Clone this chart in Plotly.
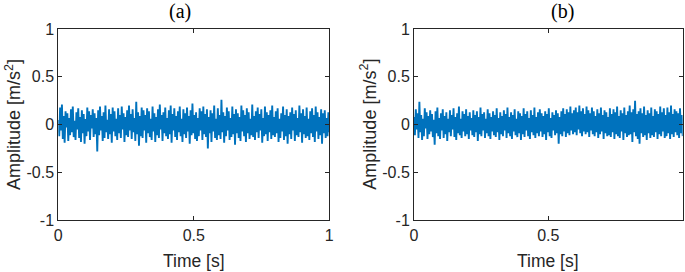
import numpy as np
import plotly.graph_objects as go

amp_a = [
    0.05, -0.12, 0.18, -0.06, 0.21, -0.15, 0.09, -0.19, 0.14, -0.03, 0.12, -0.17, 0.07, -0.11, 0.16, -0.08, 0.19, -0.13, 0.04, -0.16,
    0.13, -0.05, 0.17, -0.14, 0.08, -0.18, 0.15, -0.09, 0.11, -0.2, 0.06, -0.12, 0.18, -0.07, 0.14, -0.16, 0.1, -0.04, 0.16, -0.13,
    0.12, -0.1, 0.07, -0.28, 0.15, -0.11, 0.19, -0.06, 0.09, -0.17, 0.13, -0.14, 0.2, -0.08, 0.05, -0.15, 0.16, -0.1, 0.11, -0.19,
    0.18, -0.07, 0.14, -0.12, 0.06, -0.16, 0.17, -0.09, 0.1, -0.14, 0.19, -0.05, 0.12, -0.18, 0.08, -0.11, 0.15, -0.13, 0.2, -0.06,
    0.11, -0.15, 0.16, -0.08, 0.07, -0.17, 0.24, -0.1, 0.13, -0.22, 0.09, -0.12, 0.18, -0.14, 0.15, -0.06, 0.1, -0.19, 0.17, -0.09,
    0.14, -0.13, 0.06, -0.16, 0.19, -0.07, 0.12, -0.18, 0.08, -0.11, 0.16, -0.14, 0.21, -0.05, 0.1, -0.17, 0.13, -0.09, 0.18, -0.12,
    0.07, -0.15, 0.15, -0.1, 0.2, -0.19, 0.11, -0.06, 0.17, -0.13, 0.09, -0.16, 0.14, -0.08, 0.19, -0.12, 0.06, -0.18, 0.16, -0.1,
    0.12, -0.14, 0.18, -0.07, 0.09, -0.2, 0.15, -0.11, 0.22, -0.09, 0.1, -0.15, 0.13, -0.17, 0.07, -0.12, 0.17, -0.06, 0.14, -0.16,
    0.19, -0.1, 0.11, -0.13, 0.16, -0.25, 0.08, -0.09, 0.15, -0.18, 0.12, -0.07, 0.2, -0.14, 0.06, -0.16, 0.17, -0.11, 0.1, -0.15,
    0.26, -0.08, 0.13, -0.19, 0.09, -0.12, 0.18, -0.06, 0.14, -0.16, 0.07, -0.13, 0.19, -0.1, 0.11, -0.21, 0.16, -0.09, 0.12, -0.14,
    0.08, -0.17, 0.2, -0.07, 0.15, -0.12, 0.1, -0.18, 0.17, -0.09, 0.13, -0.15, 0.06, -0.11, 0.21, -0.13, 0.09, -0.16, 0.14, -0.08,
    0.18, -0.14, 0.11, -0.06, 0.16, -0.19, 0.07, -0.12, 0.19, -0.1, 0.13, -0.17, 0.1, -0.08, 0.15, -0.15, 0.2, -0.11, 0.08, -0.13,
    0.14, -0.09, 0.17, -0.18, 0.06, -0.14, 0.12, -0.07, 0.19, -0.16, 0.1, -0.12, 0.16, -0.2, 0.09, -0.1, 0.13, -0.15, 0.18, -0.06,
    0.11, -0.17, 0.15, -0.11, 0.07, -0.13, 0.2, -0.08, 0.12, -0.19, 0.16, -0.1, 0.09, -0.14, 0.18, -0.12, 0.06, -0.16, 0.14, -0.09,
    0.17, -0.13, 0.1, -0.18, 0.19, -0.07, 0.13, -0.15, 0.08, -0.11, 0.16, -0.2, 0.12, -0.09, 0.15, -0.14, 0.07, -0.12, 0.13, -0.08,
]

amp_b = [
    0.08, -0.11, 0.16, -0.05, 0.12, -0.14, 0.24, -0.08, 0.1, -0.16, 0.06, -0.12, 0.17, -0.04, 0.13, -0.15, 0.09, -0.1, 0.15, -0.07,
    0.11, -0.13, 0.05, -0.21, 0.14, -0.09, 0.18, -0.12, 0.07, -0.15, 0.12, -0.06, 0.16, -0.14, 0.09, -0.1, 0.13, -0.17, 0.06, -0.08,
    0.15, -0.12, 0.1, -0.05, 0.17, -0.13, 0.08, -0.16, 0.12, -0.09, 0.19, -0.11, 0.06, -0.14, 0.14, -0.07, 0.11, -0.12, 0.16, -0.1,
    0.09, -0.15, 0.13, -0.06, 0.07, -0.11, 0.15, -0.13, 0.1, -0.08, 0.14, -0.17, 0.08, -0.1, 0.18, -0.12, 0.11, -0.06, 0.13, -0.14,
    0.06, -0.09, 0.16, -0.12, 0.12, -0.15, 0.08, -0.07, 0.14, -0.11, 0.1, -0.13, 0.17, -0.08, 0.07, -0.16, 0.13, -0.1, 0.09, -0.12,
    0.15, -0.06, 0.11, -0.14, 0.18, -0.09, 0.08, -0.12, 0.13, -0.15, 0.1, -0.07, 0.16, -0.11, 0.06, -0.13, 0.14, -0.09, 0.12, -0.16,
    0.09, -0.1, 0.17, -0.13, 0.11, -0.06, 0.14, -0.12, 0.07, -0.15, 0.15, -0.08, 0.1, -0.11, 0.18, -0.14, 0.08, -0.09, 0.13, -0.12,
    0.16, -0.07, 0.12, -0.13, 0.09, -0.1, 0.14, -0.16, 0.11, -0.08, 0.17, -0.12, 0.07, -0.14, 0.13, -0.06, 0.1, -0.11, 0.15, -0.09,
    0.12, -0.2, 0.08, -0.1, 0.14, -0.12, 0.17, -0.07, 0.11, -0.13, 0.16, -0.09, 0.13, -0.11, 0.19, -0.06, 0.12, -0.1, 0.15, -0.08,
    0.18, -0.11, 0.13, -0.05, 0.2, -0.09, 0.14, -0.12, 0.17, -0.07, 0.11, -0.1, 0.19, -0.08, 0.15, -0.13, 0.12, -0.06, 0.18, -0.1,
    0.14, -0.12, 0.09, -0.08, 0.16, -0.14, 0.12, -0.1, 0.18, -0.07, 0.1, -0.15, 0.15, -0.09, 0.13, -0.12, 0.08, -0.11, 0.17, -0.13,
    0.11, -0.08, 0.16, -0.15, 0.13, -0.1, 0.19, -0.12, 0.09, -0.14, 0.15, -0.07, 0.12, -0.16, 0.18, -0.09, 0.1, -0.13, 0.14, -0.11,
    0.2, -0.1, 0.13, -0.18, 0.16, -0.08, 0.25, -0.12, 0.11, -0.15, 0.14, -0.2, 0.17, -0.09, 0.12, -0.13, 0.19, -0.11, 0.1, -0.16,
    0.15, -0.09, 0.12, -0.14, 0.18, -0.11, 0.09, -0.13, 0.16, -0.08, 0.14, -0.15, 0.11, -0.1, 0.19, -0.12, 0.13, -0.07, 0.17, -0.14,
    0.1, -0.12, 0.18, -0.09, 0.13, -0.15, 0.2, -0.1, 0.11, -0.13, 0.16, -0.08, 0.14, -0.11, 0.12, -0.14, 0.17, -0.09, 0.1, -0.12,
]

time_a = np.linspace(0, 1, len(amp_a))
time_b = np.linspace(0, 1, len(amp_b))

y_ticks = [1, 0.5, 0, -0.5, -1]
y_tick_labels = ["1", "0.5", "0", "-0.5", "-1"]
x_ticks = [0, 0.5, 1]
x_tick_labels = ["0", "0.5", "1"]
panel_titles = ["(a)", "(b)"]

W, H = 685, 272
AX = "#262626"
LINE = "#0072BD"
SANS = "Liberation Sans, Arial, sans-serif"
SERIF = "Liberation Serif, Times New Roman, serif"

fig = go.Figure()
fig.add_trace(go.Scatter(x=time_a, y=amp_a, mode="lines", line=dict(color=LINE, width=1.9),
                         xaxis="x", yaxis="y", showlegend=False))
fig.add_trace(go.Scatter(x=time_b, y=amp_b, mode="lines", line=dict(color=LINE, width=1.9),
                         xaxis="x2", yaxis="y2", showlegend=False))

y0 = 1 - 220.3 / H
y1 = 1 - 29.0 / H
dom_a = [58.3 / W, 329.3 / W]
dom_b = [414 / W, 682.7 / W]

common_x = dict(range=[0, 1], tickvals=x_ticks, ticktext=x_tick_labels, ticks="inside", ticklen=4,
                tickcolor=AX, showline=True, linecolor=AX, linewidth=1, mirror="ticks",
                showgrid=False, zeroline=False, automargin=False,
                tickfont=dict(family=SANS, size=16, color=AX))
common_y = dict(range=[-1, 1], tickvals=y_ticks, ticktext=y_tick_labels, ticks="inside", ticklen=4,
                tickcolor=AX, showline=True, linecolor=AX, linewidth=1, mirror="ticks",
                showgrid=False, zeroline=False, automargin=False,
                tickfont=dict(family=SANS, size=16, color=AX))

fig.update_layout(
    width=W, height=H, margin=dict(l=0, r=0, t=0, b=0, autoexpand=False),
    paper_bgcolor="white", plot_bgcolor="white",
    xaxis=dict(domain=dom_a, anchor="y", **common_x),
    yaxis=dict(domain=[y0, y1], anchor="x", **common_y),
    xaxis2=dict(domain=dom_b, anchor="y2", **common_x),
    yaxis2=dict(domain=[y0, y1], anchor="x2", **common_y),
)

annots = []
for title, tx, dom in [(panel_titles[0], 179.5, dom_a), (panel_titles[1], 562, dom_b)]:
    annots.append(dict(text=title, x=tx / W, y=1 - 12 / H, xref="paper", yref="paper",
                       showarrow=False, xanchor="center", yanchor="middle",
                       font=dict(family=SERIF, size=20, color="black")))
    cx = (dom[0] + dom[1]) / 2
    annots.append(dict(text="Time [s]", x=cx, y=1 - 261 / H, xref="paper", yref="paper",
                       showarrow=False, xanchor="center", yanchor="middle",
                       font=dict(family=SANS, size=17.5, color=AX)))
    annots.append(dict(text="Amplitude [m/s<sup>2</sup>]", x=dom[0] - 45 / W, y=(y0 + y1) / 2,
                       xref="paper", yref="paper", textangle=-90,
                       showarrow=False, xanchor="center", yanchor="middle",
                       font=dict(family=SANS, size=18, color=AX)))
fig.update_layout(annotations=annots)

fig.write_html("out.html", config={"displayModeBar": False},
               post_script="document.body.style.margin='0px';document.body.style.overflow='hidden';")
